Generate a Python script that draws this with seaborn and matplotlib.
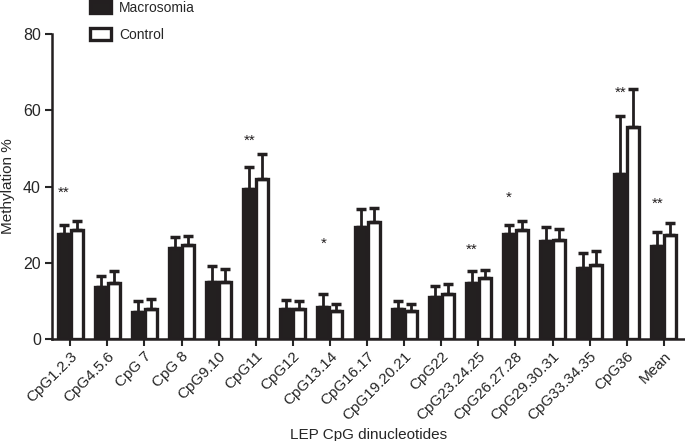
import matplotlib
matplotlib.use("Agg")
import matplotlib.pyplot as plt
import seaborn as sns
import pandas as pd
import numpy as np

categories = ["CpG1.2.3", "CpG4.5.6", "CpG 7", "CpG 8", "CpG9.10", "CpG11", "CpG12",
              "CpG13.14", "CpG16.17", "CpG19.20.21", "CpG22", "CpG23.24.25",
              "CpG26.27.28", "CpG29.30.31", "CpG33.34.35", "CpG36", "Mean"]
macrosomia = [27.5, 13.7, 7.0, 24.0, 14.9, 39.3, 7.9, 8.3, 29.4, 8.0, 11.1, 14.6,
              27.5, 25.8, 18.7, 43.2, 24.5]
macrosomia_err = [2.4, 2.8, 3.1, 2.7, 4.3, 5.7, 2.3, 3.6, 4.8, 1.9, 2.9, 3.2,
                  2.4, 3.5, 3.8, 15.3, 3.6]
control = [28.6, 14.8, 8.0, 24.8, 15.0, 42.0, 7.9, 7.3, 30.6, 7.4, 11.9, 15.9,
           28.6, 25.9, 19.5, 55.6, 27.3]
control_err = [2.4, 3.1, 2.4, 2.2, 3.4, 6.4, 2.2, 1.9, 3.7, 1.8, 2.5, 2.2,
               2.4, 2.9, 3.6, 10.0, 3.1]
star_labels = ["**", "", "", "", "", "**", "", "*", "", "", "", "**", "*", "", "", "**", "**"]
star_heights = [38.3, 0, 0, 0, 0, 52.0, 0, 25.0, 0, 0, 0, 23.4, 37.0, 0, 0, 64.6, 35.4]
groups = ["Macrosomia", "Control"]

df = pd.DataFrame({
    "category": categories * 2,
    "group": [groups[0]] * len(categories) + [groups[1]] * len(categories),
    "value": macrosomia + control,
})
errs = {groups[0]: macrosomia_err, groups[1]: control_err}

sns.set_style("white")
plt.rcParams["font.family"] = ["Liberation Sans", "DejaVu Sans"]

fig = plt.figure(figsize=(6.85, 4.41), dpi=100)
ax = fig.add_axes([0.076, 0.231, 0.924, 0.692])

sns.barplot(data=df, x="category", y="value", hue="group", order=categories,
            hue_order=groups, palette={groups[0]: "#231f20", groups[1]: "white"},
            edgecolor="#231f20", linewidth=2.4, width=0.7, gap=0.08, ax=ax,
            errorbar=None)

for cont, g in zip(ax.containers, groups):
    xs = [p.get_x() + p.get_width() / 2 for p in cont]
    hs = [p.get_height() for p in cont]
    e = np.array(errs[g])
    ax.errorbar(xs, hs, yerr=[np.zeros_like(e), e], fmt="none", ecolor="#231f20",
                elinewidth=2, capsize=3.5, capthick=2.5, zorder=1)

mac_cont = ax.containers[0]
for p, s, h in zip(mac_cont, star_labels, star_heights):
    if s:
        ax.text(p.get_x() + p.get_width() / 2, h, s, ha="center", va="center",
                fontsize=11, color="#231f20")

ax.set_ylim(0, 80)
ax.set_xlim(-0.49, 16.57)
ax.set_yticks([0, 20, 40, 60, 80])
ax.tick_params(axis="y", labelsize=11.5, length=5, width=1.5, direction="out", left=True, pad=3)
ax.tick_params(axis="x", labelsize=11, length=5, width=1.5, direction="out", bottom=True, pad=2)
plt.setp(ax.get_xticklabels(), rotation=45, ha="right", rotation_mode="anchor")
for sp in ["top", "right"]:
    ax.spines[sp].set_visible(False)
for sp in ["left", "bottom"]:
    ax.spines[sp].set_linewidth(1.8)
    ax.spines[sp].set_color("#231f20")
ax.set_xlabel("LEP CpG dinucleotides", fontsize=11, labelpad=4)
ax.set_ylabel("Methylation %", fontsize=11, labelpad=6)

handles, labels = ax.get_legend_handles_labels()
ax.legend(handles, labels, loc="upper left", bbox_to_anchor=(0.113, 1.026),
          bbox_transform=fig.transFigure, frameon=False, fontsize=10,
          handlelength=1.5, handleheight=0.95, labelspacing=0.95, handletextpad=0.6)

fig.savefig("out.png", dpi=100)
